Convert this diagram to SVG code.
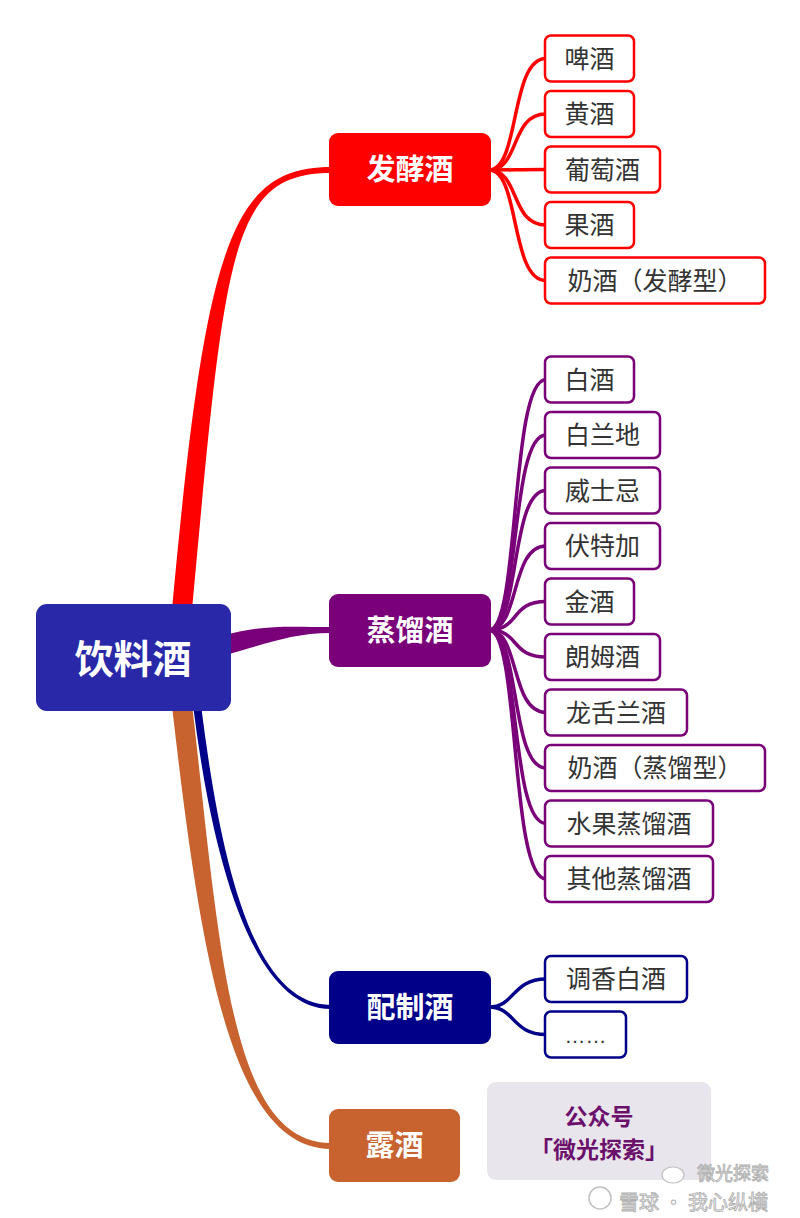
<svg xmlns="http://www.w3.org/2000/svg" width="800" height="1218" viewBox="0 0 800 1218">
<style>
.leaf rect{fill:#fff;stroke-width:2.5}
.leaf text{font-family:"Noto Sans CJK SC","Microsoft YaHei",sans-serif;font-size:25px;fill:#333;text-anchor:middle}
.branch text,.root text{font-family:"Noto Sans CJK SC",sans-serif;font-weight:bold;fill:#fff;text-anchor:middle}
.branch text{font-size:29px}
.sub{fill:none;stroke-width:3.5;stroke-linecap:round}
.r rect{stroke:#f00}.p rect{stroke:#7a007a}.n rect{stroke:#000088}
.wm{font-family:"Noto Sans CJK SC",sans-serif;fill:#fff;stroke:#b0b0b0;stroke-width:0.9}
</style>
<rect width="800" height="1218" fill="#fff"/>
<g id="connectors">
  <path d="M 192 610 C 225 251, 230 173, 331 173 L 331 167 C 230 167, 205 249, 172 610 Z" fill="#f00"/>
  <path d="M 222 656 C 264 645, 290 633, 331 633 L 331 627 C 290 627, 262 624, 222 636 Z" fill="#7a007a"/>
  <path d="M 172 706 C 200 951, 230 1149, 331 1149 L 331 1143 C 230 1143, 220 949, 192 704 Z" fill="#c8622e"/>
  <path d="M 193 705 C 211 850, 250 1009, 331 1009 L 331 1005 C 250 1005, 219 849, 201 705 Z" fill="#000088"/>
  <g stroke="#f00">
    <path class="sub" d="M 489 170 C 520 170, 510 58.5, 546 58.5"/>
    <path class="sub" d="M 489 170 C 520 170, 510 114, 546 114"/>
    <path class="sub" d="M 489 170 C 520 170, 510 169.5, 546 169.5"/>
    <path class="sub" d="M 489 170 C 520 170, 510 225, 546 225"/>
    <path class="sub" d="M 489 170 C 520 170, 510 280.5, 546 280.5"/>
  </g>
  <g stroke="#7a007a">
    <path class="sub" d="M 489 630 C 520 630, 510 379.5, 546 379.5"/>
    <path class="sub" d="M 489 630 C 520 630, 510 435, 546 435"/>
    <path class="sub" d="M 489 630 C 520 630, 510 490.5, 546 490.5"/>
    <path class="sub" d="M 489 630 C 520 630, 510 546, 546 546"/>
    <path class="sub" d="M 489 630 C 520 630, 510 601.5, 546 601.5"/>
    <path class="sub" d="M 489 630 C 520 630, 510 657, 546 657"/>
    <path class="sub" d="M 489 630 C 520 630, 510 712.5, 546 712.5"/>
    <path class="sub" d="M 489 630 C 520 630, 510 768, 546 768"/>
    <path class="sub" d="M 489 630 C 520 630, 510 823.5, 546 823.5"/>
    <path class="sub" d="M 489 630 C 520 630, 510 879, 546 879"/>
  </g>
  <g stroke="#000088">
    <path class="sub" d="M 489 1007 C 515 1007, 512 979, 546 979"/>
    <path class="sub" d="M 489 1007 C 515 1007, 512 1034.5, 546 1034.5"/>
  </g>
</g>
<g id="root" class="root">
  <rect x="36" y="604" width="195" height="107" rx="11" fill="#2828a8"/>
  <text x="133" y="673" font-size="39">饮料酒</text>
</g>
<g id="fajiaojiu" class="branch">
  <rect x="329" y="133" width="162" height="73" rx="9" fill="#f00"/>
  <text x="410" y="180">发酵酒</text>
</g>
<g id="zhengliujiu" class="branch">
  <rect x="329" y="594" width="162" height="73" rx="9" fill="#7a007a"/>
  <text x="410" y="640.5">蒸馏酒</text>
</g>
<g id="peizhijiu" class="branch">
  <rect x="329" y="971" width="162" height="73" rx="9" fill="#000088"/>
  <text x="410" y="1017.5">配制酒</text>
</g>
<g id="lujiu" class="branch">
  <rect x="329" y="1109" width="131" height="73" rx="9" fill="#c8622e"/>
  <text x="394.5" y="1156">露酒</text>
</g>
<g id="leaf-pijiu" class="leaf r"><rect x="545" y="35.5" width="89" height="46" rx="6"/><text x="589.5" y="67.5">啤酒</text></g>
<g id="leaf-huangjiu" class="leaf r"><rect x="545" y="91" width="89" height="46" rx="6"/><text x="589.5" y="123">黄酒</text></g>
<g id="leaf-putaojiu" class="leaf r"><rect x="545" y="146.5" width="115" height="46" rx="6"/><text x="602.5" y="178.5">葡萄酒</text></g>
<g id="leaf-guojiu" class="leaf r"><rect x="545" y="202" width="89" height="46" rx="6"/><text x="589.5" y="234">果酒</text></g>
<g id="leaf-naijiu1" class="leaf r"><rect x="545" y="257.5" width="220" height="46" rx="6"/><text x="655" y="289.5">奶酒（发酵型）</text></g>
<g id="leaf-baijiu" class="leaf p"><rect x="545" y="356.5" width="89" height="46" rx="6"/><text x="589.5" y="388.5">白酒</text></g>
<g id="leaf-bailandi" class="leaf p"><rect x="545" y="412" width="115" height="46" rx="6"/><text x="602.5" y="444">白兰地</text></g>
<g id="leaf-weishiji" class="leaf p"><rect x="545" y="467.5" width="115" height="46" rx="6"/><text x="602.5" y="499.5">威士忌</text></g>
<g id="leaf-futejia" class="leaf p"><rect x="545" y="523" width="115" height="46" rx="6"/><text x="602.5" y="555">伏特加</text></g>
<g id="leaf-jinjiu" class="leaf p"><rect x="545" y="578.5" width="89" height="46" rx="6"/><text x="589.5" y="610.5">金酒</text></g>
<g id="leaf-langmujiu" class="leaf p"><rect x="545" y="634" width="115" height="46" rx="6"/><text x="602.5" y="666">朗姆酒</text></g>
<g id="leaf-longshelanjiu" class="leaf p"><rect x="545" y="689.5" width="142" height="46" rx="6"/><text x="616" y="721.5">龙舌兰酒</text></g>
<g id="leaf-naijiu2" class="leaf p"><rect x="545" y="745" width="220" height="46" rx="6"/><text x="655" y="777">奶酒（蒸馏型）</text></g>
<g id="leaf-shuiguo" class="leaf p"><rect x="545" y="800.5" width="168" height="46" rx="6"/><text x="629" y="832.5">水果蒸馏酒</text></g>
<g id="leaf-qita" class="leaf p"><rect x="545" y="856" width="168" height="46" rx="6"/><text x="629" y="888">其他蒸馏酒</text></g>
<g id="leaf-tiaoxiang" class="leaf n"><rect x="545" y="956" width="142" height="46" rx="6"/><text x="616" y="988">调香白酒</text></g>
<g id="leaf-more" class="leaf n"><rect x="545" y="1011.5" width="81" height="46" rx="6"/><text x="585.5" y="1043" style="font-family:'Liberation Sans',sans-serif;font-size:21px">……</text></g>
<g id="info">
  <rect x="487" y="1082" width="224" height="98" rx="9" fill="#e9e5ec"/>
  <text x="599" y="1125" font-family="Noto Sans CJK SC, sans-serif" font-size="23" font-weight="bold" fill="#6b106b" text-anchor="middle">公众号</text>
  <text x="599" y="1158" font-family="Noto Sans CJK SC, sans-serif" font-size="23" font-weight="bold" fill="#6b106b" text-anchor="middle">「微光探索」</text>
</g>
<g id="watermark">
  <circle cx="600" cy="1198" r="11" fill="none" stroke="#c0c0c0" stroke-width="1.5"/>
  <ellipse cx="673" cy="1175" rx="11" ry="8" fill="#fff" stroke="#c0c0c0" stroke-width="1.2"/>
  <text class="wm" x="697" y="1180" font-size="18">微光探索</text>
  <text class="wm" x="619" y="1210" font-size="20">雪球 · 我心纵横</text>
</g>
</svg>
